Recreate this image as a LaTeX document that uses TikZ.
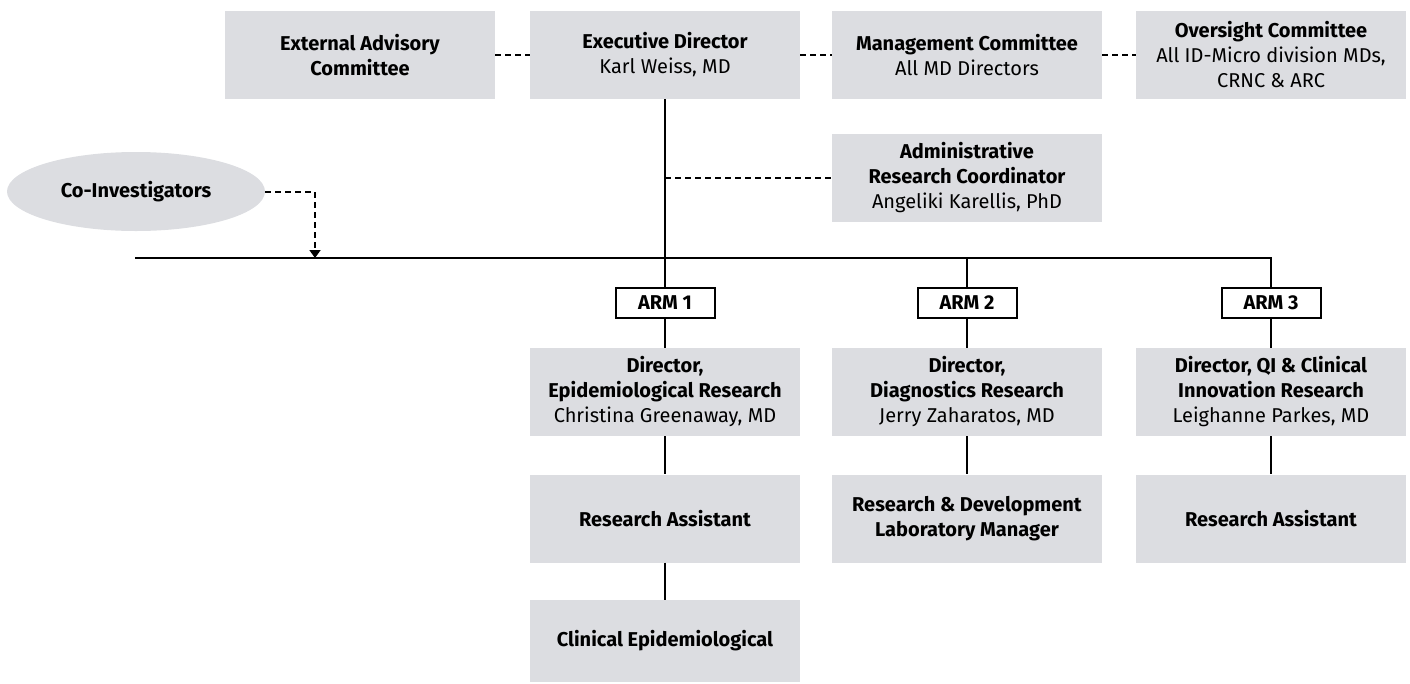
\documentclass[tikz,border=0pt]{standalone}
\usepackage{fontspec}
\setmainfont{Fira Sans}
\usetikzlibrary{arrows.meta,shapes.geometric}
\definecolor{boxgray}{RGB}{220,221,225}
\begin{document}
\begin{tikzpicture}[x=1pt,y=-1pt,
  font=\fontsize{20}{25}\selectfont,
  card/.style={fill=boxgray,draw=none,minimum width=270pt,minimum height=88pt,align=center,inner sep=2pt},
  armbox/.style={draw=black,line width=2pt,fill=white,minimum width=99pt,minimum height=30pt,inner sep=0pt,font=\fontsize{20}{20}\selectfont\bfseries},
  solidline/.style={line width=2pt},
  dashline/.style={line width=1.8pt,dash pattern=on 6pt off 4pt}]
\useasboundingbox (0,0) rectangle (1410,683);
% top row
\node[card] (ext) at (360,55) {\textbf{External Advisory}\\\textbf{Committee}};
\node[card] (exec) at (665,55) {\textbf{Executive Director}\\Karl Weiss, MD};
\node[card] (mgmt) at (967,55) {\textbf{Management Committee}\\All MD Directors};
\node[card] (over) at (1271,55) {\textbf{Oversight Committee}\\All ID-Micro division MDs,\\CRNC \& ARC};
\node[card] (admin) at (967,178) {\textbf{Administrative}\\\textbf{Research Coordinator}\\Angeliki Karellis, PhD};
\node[ellipse,fill=boxgray,minimum width=258pt,minimum height=79pt,inner sep=0pt] (coinv) at (136,191.5) {\textbf{Co-Investigators}};
% arms
\node[armbox] (arm1) at (665,303) {ARM 1};
\node[armbox] (arm2) at (967,303) {ARM 2};
\node[armbox] (arm3) at (1271,303) {ARM 3};
% directors
\node[card] (dir1) at (665,392) {\textbf{Director,}\\\textbf{Epidemiological Research}\\Christina Greenaway, MD};
\node[card] (dir2) at (967,392) {\textbf{Director,}\\\textbf{Diagnostics Research}\\Jerry Zaharatos, MD};
\node[card] (dir3) at (1271,392) {\textbf{Director, QI \& Clinical}\\\textbf{Innovation Research}\\Leighanne Parkes, MD};
% staff
\node[card] (ra1) at (665,518.5) {\textbf{Research Assistant}};
\node[card] (rd) at (967,518.5) {\textbf{Research \& Development}\\\textbf{Laboratory Manager}};
\node[card] (ra3) at (1271,518.5) {\textbf{Research Assistant}};
\node[card,minimum height=82pt] (clin) at (665,641) {\textbf{Clinical Epidemiological}};
% coordinates
\coordinate (busL) at (135,258);
\coordinate (busR) at (1271,258);
\coordinate (bus1) at (665,258);
\coordinate (bus2) at (967,258);
\coordinate (adminj) at (665,178);
\coordinate (cojoin) at (315,192);
\coordinate (cotip) at (315,258);
% dashed links
\draw[dashline] (ext.east) -- (exec.west);
\draw[dashline] (exec.east) -- (mgmt.west);
\draw[dashline] (mgmt.east) -- (over.west);
\draw[dashline] (adminj) -- (admin.west);
\draw[dashline,-{Triangle[width=11pt,length=8pt]}] (coinv.east |- cojoin) -- (cojoin) -- (cotip);
% solid lines
\draw[solidline] (exec.south) -- (bus1);
\draw[solidline] (busL) -- (busR) -- (arm3.north);
\draw[solidline] (bus1) -- (arm1.north);
\draw[solidline] (bus2) -- (arm2.north);
\draw[solidline] (arm1.south) -- (dir1.north);
\draw[solidline] (arm2.south) -- (dir2.north);
\draw[solidline] (arm3.south) -- (dir3.north);
\draw[solidline] (dir1.south) -- (ra1.north);
\draw[solidline] (dir2.south) -- (rd.north);
\draw[solidline] (dir3.south) -- (ra3.north);
\draw[solidline] (ra1.south) -- (clin.north);
\end{tikzpicture}
\end{document}
